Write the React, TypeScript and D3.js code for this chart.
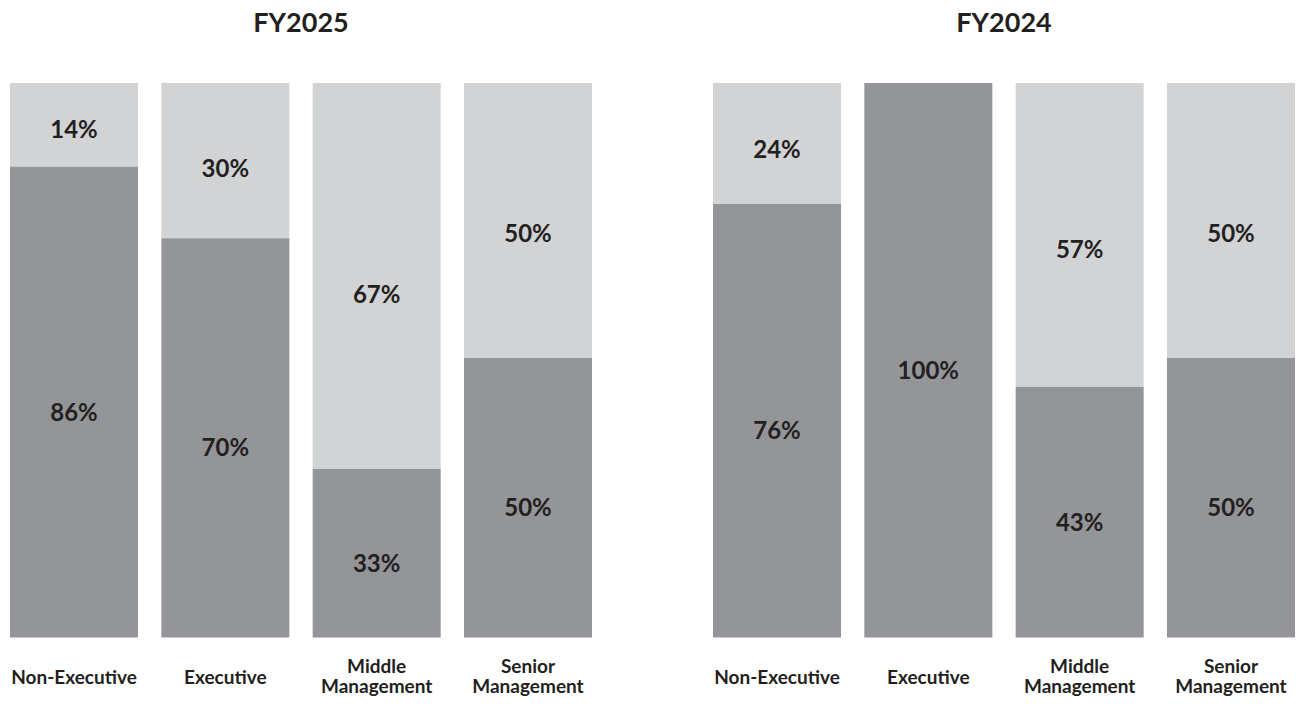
import React from "react";
import * as d3 from "d3";

// Categories and data
const categories = ["Non-Executive", "Executive", "Middle Management", "Senior Management"];
const categoryLines = [["Non-Executive"], ["Executive"], ["Middle", "Management"], ["Senior", "Management"]];
const years = ["FY2025", "FY2024"];

// Bottom (dark) segment share as drawn in the picture (%)
const darkShareFY2025 = [84.9, 72.0, 30.4, 50.4];
const darkShareFY2024 = [78.2, 100, 45.2, 50.4];
// Printed labels
const darkLabelFY2025 = ["86%", "70%", "33%", "50%"];
const lightLabelFY2025 = ["14%", "30%", "67%", "50%"];
const darkLabelFY2024 = ["76%", "100%", "43%", "50%"];
const lightLabelFY2024 = ["24%", "", "57%", "50%"];

const W = 1303;
const H = 704;
const DARK = "#939598";
const LIGHT = "#d1d3d4";
const TEXT = "#231f20";
const FONT = "Lato, 'Open Sans', sans-serif";

const panels = [
  { title: years[0], range: [10, 592], dark: darkShareFY2025, dl: darkLabelFY2025, ll: lightLabelFY2025 },
  { title: years[1], range: [713, 1295], dark: darkShareFY2024, dl: darkLabelFY2024, ll: lightLabelFY2024 },
];

export default function App() {
  const y = d3.scaleLinear().domain([0, 100]).range([637.5, 83]);
  return (
    <svg width={W} height={H} style={{ position: "absolute", left: 0, top: 0, background: "#fff" }} fontFamily={FONT}>
      {panels.map((p, pi) => {
        const x = d3.scaleBand<string>().domain(categories).range(p.range as [number, number]).paddingInner(0.154).paddingOuter(0);
        const cx = (p.range[0] + p.range[1]) / 2;
        return (
          <g key={pi}>
            <text x={cx} y={32} textAnchor="middle" fontSize={27} fontWeight={700} fill={TEXT}>{p.title}</text>
            {categories.map((c, i) => {
              const x0 = x(c)!;
              const bw = x.bandwidth();
              const v = p.dark[i];
              const yTop = y(100);
              const yMid = y(v);
              const yBot = y(0);
              const mx = x0 + bw / 2;
              const lines = categoryLines[i];
              const hTop = yMid - yTop;
              return (
                <g key={c}>
                  {v < 100 && <rect x={x0} y={yTop} width={bw} height={hTop} fill={LIGHT} />}
                  <rect x={x0} y={yMid} width={bw} height={yBot - yMid} fill={DARK} />
                  {v < 100 && p.ll[i] && (
                    <text x={mx} y={(yTop + yMid) / 2 + hTop * 0.045} dominantBaseline="central" textAnchor="middle" fontSize={24} fontWeight={700} fill={TEXT}>{p.ll[i]}</text>
                  )}
                  <text x={mx} y={(yMid + yBot) / 2 + 9} dominantBaseline="central" textAnchor="middle" fontSize={24} fontWeight={700} fill={TEXT}>{p.dl[i]}</text>
                  <text x={mx} textAnchor="middle" fontSize={19} fontWeight={700} fill={TEXT}>
                    {lines.length === 1 ? (
                      <tspan x={mx} y={684}>{lines[0]}</tspan>
                    ) : (
                      lines.map((l, li) => (
                        <tspan key={li} x={mx} y={673 + li * 19.5}>{l}</tspan>
                      ))
                    )}
                  </text>
                </g>
              );
            })}
          </g>
        );
      })}
    </svg>
  );
}
